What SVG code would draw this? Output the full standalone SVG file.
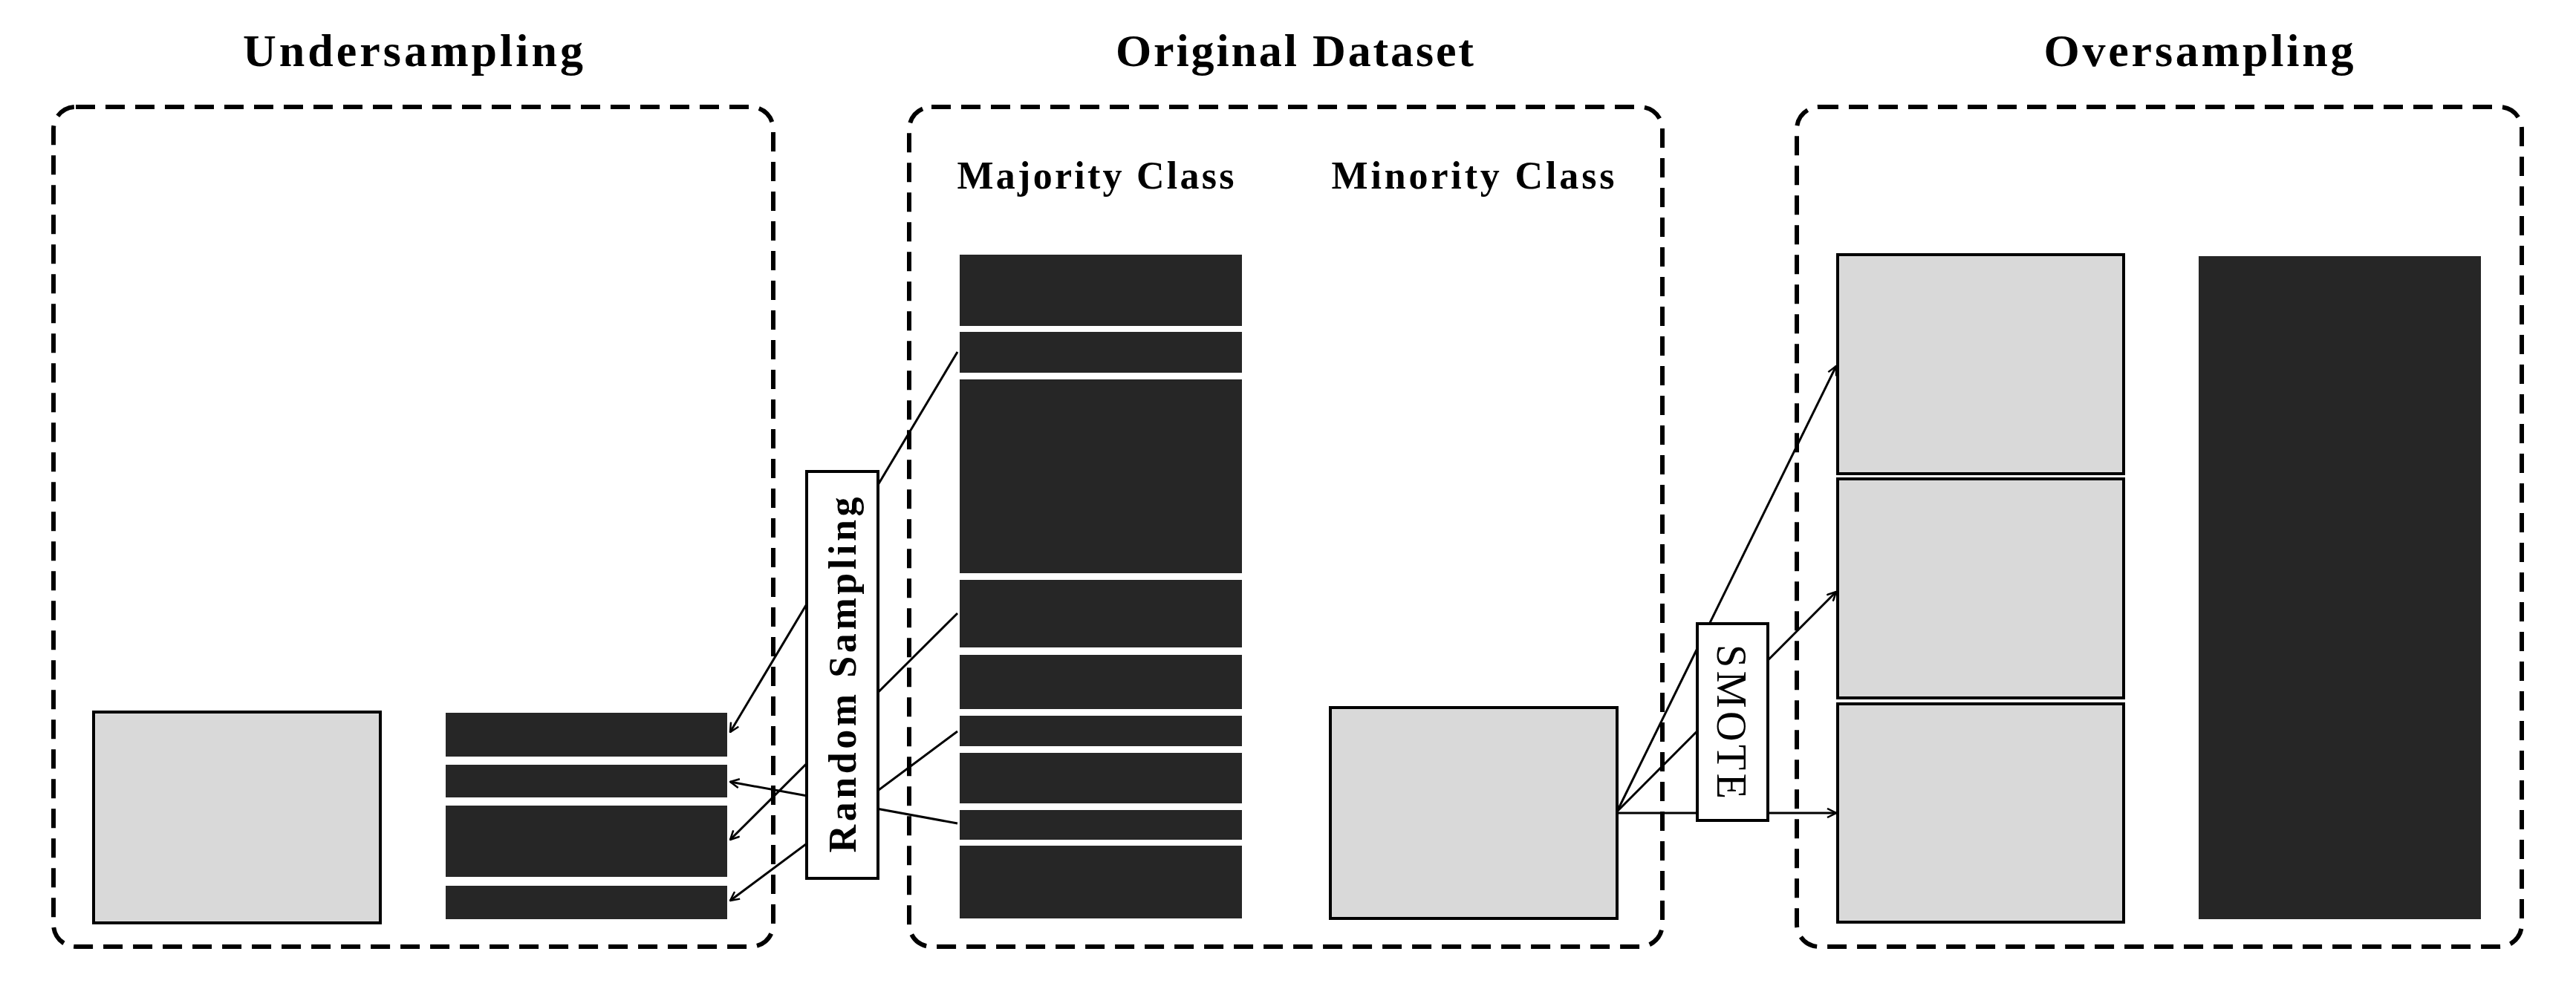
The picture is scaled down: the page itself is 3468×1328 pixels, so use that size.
<svg xmlns="http://www.w3.org/2000/svg" width="3468" height="1328" viewBox="0 0 3468 1328">
<style>
.grp{fill:none;stroke:#000;stroke-width:6;stroke-dasharray:26 14}
.t{font-family:"Liberation Serif",serif;font-weight:bold;font-size:62px;text-anchor:middle}
.l{font-family:"Liberation Serif",serif;font-weight:bold;font-size:52px;text-anchor:middle}
.d{fill:#262626}
.g{fill:#d9d9d9;stroke:#000;stroke-width:4}
.c{stroke:#000;stroke-width:3;fill:none}
.lb{fill:#fff;stroke:#000;stroke-width:4}
</style>
<defs><marker id="a" markerWidth="14" markerHeight="14" refX="13" refY="7" orient="auto" markerUnits="userSpaceOnUse"><path d="M1,1 L13,7 L1,13" fill="none" stroke="#000" stroke-width="2.5"/></marker></defs>
<rect width="3468" height="1328" fill="#fff"/>
<g id="under">
<rect class="grp" x="72" y="144" width="969" height="1131" rx="30"/>
<text class="t" x="556" y="89" textLength="458">Undersampling</text>
<rect class="g" x="126" y="959" width="386" height="284"/>
<rect class="d" x="600" y="960" width="379" height="59"/>
<rect class="d" x="600" y="1030" width="379" height="44"/>
<rect class="d" x="600" y="1085" width="379" height="96"/>
<rect class="d" x="600" y="1193" width="379" height="45"/>
</g>
<g id="orig">
<rect class="grp" x="1224" y="144" width="1014" height="1131" rx="30"/>
<text class="t" x="1743" y="89" textLength="482">Original Dataset</text>
<text class="l" x="1475" y="254" textLength="373">Majority Class</text>
<text class="l" x="1983" y="254" textLength="381">Minority Class</text>
<rect class="d" x="1292" y="343" width="380" height="96"/>
<rect class="d" x="1292" y="447" width="380" height="55"/>
<rect class="d" x="1292" y="511" width="380" height="261"/>
<rect class="d" x="1292" y="781" width="380" height="91"/>
<rect class="d" x="1292" y="882" width="380" height="73"/>
<rect class="d" x="1292" y="964" width="380" height="41"/>
<rect class="d" x="1292" y="1014" width="380" height="68"/>
<rect class="d" x="1292" y="1091" width="380" height="40"/>
<rect class="d" x="1292" y="1139" width="380" height="98"/>
<rect class="g" x="1791" y="953" width="386" height="284"/>
</g>
<g id="over">
<rect class="grp" x="2419" y="144" width="976" height="1131" rx="30"/>
<text class="t" x="2960" y="89" textLength="417">Oversampling</text>
<rect class="g" x="2474" y="343" width="385" height="295"/>
<rect class="g" x="2474" y="645" width="385" height="295"/>
<rect class="g" x="2474" y="948" width="385" height="294"/>
<rect class="d" x="2960" y="345" width="380" height="893"/>
</g>
<g id="connectors">
<line class="c" x1="1289" y1="474" x2="983" y2="986" marker-end="url(#a)"/>
<line class="c" x1="1289" y1="1109" x2="983" y2="1053" marker-end="url(#a)"/>
<line class="c" x1="1289" y1="826" x2="983" y2="1131" marker-end="url(#a)"/>
<line class="c" x1="1289" y1="985" x2="983" y2="1213" marker-end="url(#a)"/>
<line class="c" x1="2177" y1="1093" x2="2472" y2="493" marker-end="url(#a)"/>
<line class="c" x1="2177" y1="1093" x2="2472" y2="797" marker-end="url(#a)"/>
<line class="c" x1="2177" y1="1095" x2="2472" y2="1095" marker-end="url(#a)"/>
</g>
<g id="random">
<rect class="lb" x="1086" y="635" width="96" height="548"/>
<text class="l" transform="translate(1152,909) rotate(-90)" x="0" y="0" textLength="479" style="font-weight:bold">Random Sampling</text>
</g>
<g id="smote">
<rect class="lb" x="2285" y="840" width="95" height="265"/>
<text transform="translate(2312,972) rotate(90)" x="0" y="0" textLength="208" style="font-family:'Liberation Serif',serif;font-size:56px;text-anchor:middle">SMOTE</text>
</g>
</svg>
